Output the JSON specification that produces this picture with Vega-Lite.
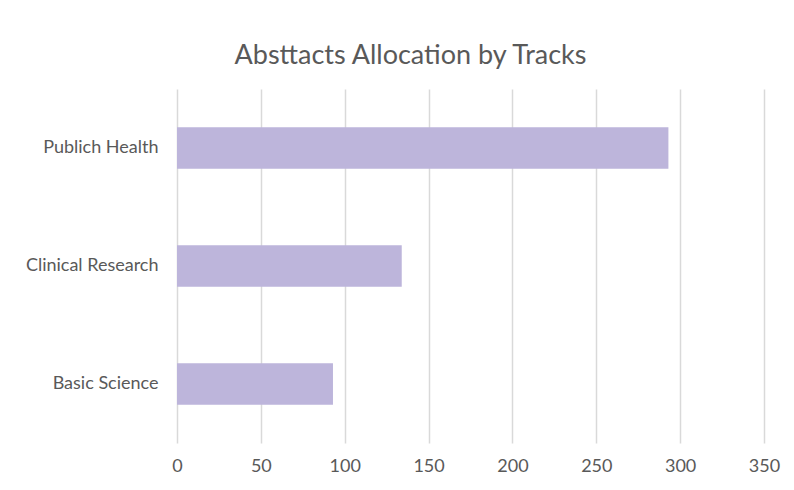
{
  "$schema": "https://vega.github.io/schema/vega-lite/v6.json",
  "autosize": "none",
  "width": 587,
  "height": 354,
  "padding": {"left": 177, "top": 89, "right": 30, "bottom": 47},
  "background": "white",
  "title": {
    "text": "Absttacts Allocation by Tracks",
    "font": "Lato",
    "fontSize": 27,
    "fontWeight": "normal",
    "color": "#595959",
    "anchor": "middle",
    "dx": -60,
    "offset": 19
  },
  "data": {
    "values": [
      {"track": "Publich Health", "count": 293},
      {"track": "Clinical Research", "count": 134},
      {"track": "Basic Science", "count": 93}
    ]
  },
  "mark": {"type": "bar", "color": "#BDB5DB"},
  "encoding": {
    "y": {
      "field": "track",
      "type": "nominal",
      "sort": ["Publich Health", "Clinical Research", "Basic Science"],
      "scale": {"paddingInner": 0.65, "paddingOuter": 0.325},
      "axis": {
        "title": null,
        "domain": false,
        "ticks": false,
        "labelPadding": 19,
        "labelFont": "Lato",
        "labelFontSize": 18,
        "labelColor": "#595959"
      }
    },
    "x": {
      "field": "count",
      "type": "quantitative",
      "scale": {"domain": [0, 350], "nice": false},
      "axis": {
        "title": null,
        "values": [0, 50, 100, 150, 200, 250, 300, 350],
        "domain": false,
        "ticks": false,
        "labelFlush": false,
        "labelPadding": 14,
        "labelFont": "Lato",
        "labelFontSize": 18,
        "labelColor": "#595959",
        "grid": true,
        "gridColor": "#D9D9D9",
        "gridWidth": 1.5
      }
    }
  },
  "config": {"view": {"stroke": null}}
}
